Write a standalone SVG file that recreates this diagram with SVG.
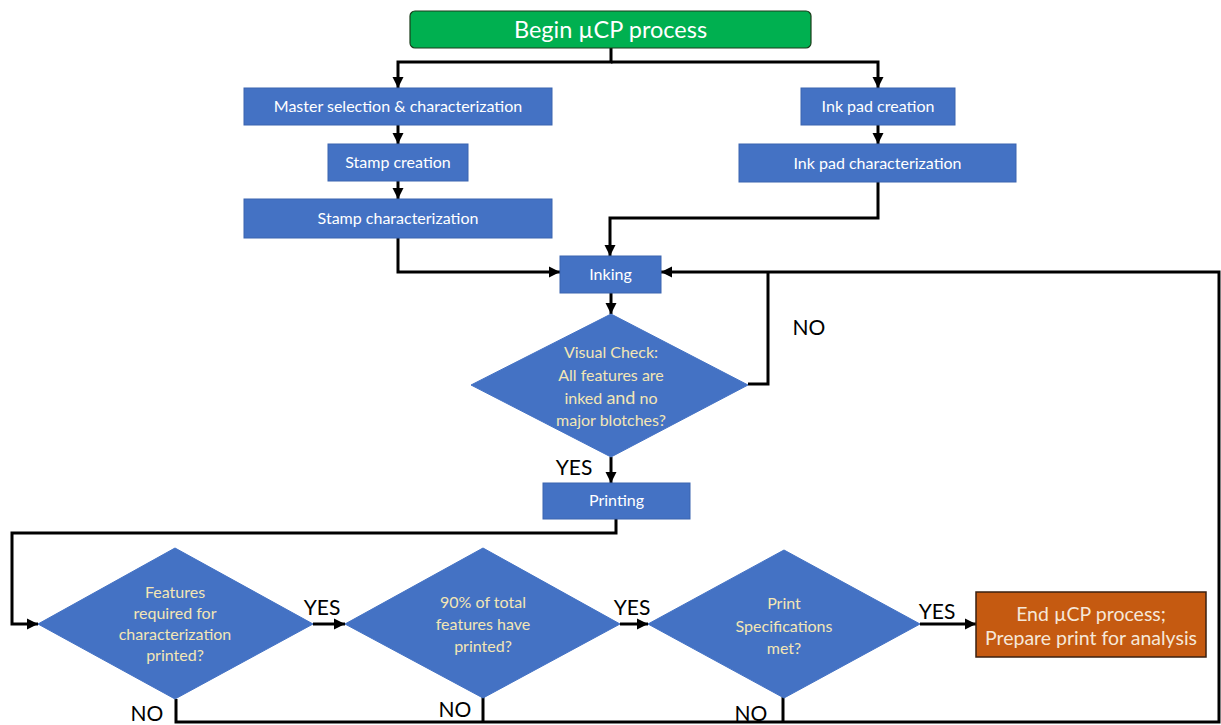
<svg xmlns="http://www.w3.org/2000/svg" width="1221" height="725" viewBox="0 0 1221 725">
<defs>
<marker id="arr" markerUnits="userSpaceOnUse" markerWidth="12" markerHeight="12" refX="11" refY="6" orient="auto">
<path d="M0,0.5 L11,6 L0,11.5 z" fill="#000"/>
</marker>
<style>
.box{fill:#4472c4;stroke:#3a64b0;stroke-width:1}
.dia{fill:#4472c4;stroke:#4472c4;stroke-width:1}
.bt{font-family:Lato,"Liberation Sans",sans-serif;font-size:16px;fill:#ffffff;text-anchor:middle}
.dt{font-family:Lato,"Liberation Sans",sans-serif;font-size:16px;fill:#f3e6b5;text-anchor:middle}
.lbl{font-family:Lato,"Liberation Sans",sans-serif;font-size:21px;fill:#000;text-anchor:middle}
.c{fill:none;stroke:#000;stroke-width:3}
.ca{fill:none;stroke:#000;stroke-width:3;marker-end:url(#arr)}
</style>
</defs>
<rect width="1221" height="725" fill="#ffffff"/>

<g id="connectors">
<path class="ca" d="M611,48 V62 H398 V88"/>
<path class="ca" d="M611,62 H878 V88"/>
<path class="ca" d="M398,125 V144"/>
<path class="ca" d="M398,181 V199"/>
<path class="ca" d="M878,125 V144"/>
<path class="ca" d="M878,182 V218 H610 V256"/>
<path class="ca" d="M398,238 V272 H560"/>
<path class="ca" d="M611,293 V314"/>
<path class="c" d="M748,384 H768 V272"/>
<path class="ca" d="M176,699 V722 H1219 V272 H661"/>
<path class="c" d="M483,697 V722"/>
<path class="c" d="M783,697 V722"/>
<path class="ca" d="M611,457 V483"/>
<path class="ca" d="M616,519 V533 H12 V624 H38"/>
<path class="ca" d="M313,624 H345"/>
<path class="ca" d="M620,624 H648"/>
<path class="ca" d="M920,624 H976"/>
</g>

<g id="labels">
<text class="lbl" x="809" y="335">NO</text>
<text class="lbl" x="574" y="475">YES</text>
<text class="lbl" x="322" y="615">YES</text>
<text class="lbl" x="632" y="615">YES</text>
<text class="lbl" x="937" y="619">YES</text>
<text class="lbl" x="147" y="721">NO</text>
<text class="lbl" x="455" y="717">NO</text>
<text class="lbl" x="751" y="721">NO</text>
</g>

<g id="begin">
<rect x="410" y="11" width="401" height="37" rx="5" fill="#00b050" stroke="#1a3d1a" stroke-width="1.2"/>
<text x="610.5" y="38" font-family="Lato,'Liberation Sans',sans-serif" font-size="23.5" fill="#ffffff" text-anchor="middle">Begin µCP process</text>
</g>

<g id="master">
<rect class="box" x="244" y="88" width="308" height="37"/>
<text class="bt" x="398" y="112">Master selection &amp; characterization</text>
</g>

<g id="stamp-creation">
<rect class="box" x="328" y="144" width="140" height="37"/>
<text class="bt" x="398" y="168">Stamp creation</text>
</g>

<g id="stamp-char">
<rect class="box" x="244" y="199" width="308" height="39"/>
<text class="bt" x="398" y="224">Stamp characterization</text>
</g>

<g id="inkpad-creation">
<rect class="box" x="801" y="88" width="154" height="37"/>
<text class="bt" x="878" y="112">Ink pad creation</text>
</g>

<g id="inkpad-char">
<rect class="box" x="739" y="144" width="277" height="38"/>
<text class="bt" x="877.5" y="169">Ink pad characterization</text>
</g>

<g id="inking">
<rect class="box" x="560" y="256" width="101" height="37"/>
<text class="bt" x="610.5" y="280">Inking</text>
</g>

<g id="visual-check">
<polygon class="dia" points="611,314 748,385 611,457 471,385"/>
<text class="dt" x="611" y="358">Visual Check:</text>
<text class="dt" x="611" y="381">All features are</text>
<text class="dt" x="611" y="404">inked <tspan font-size="18">and</tspan> no</text>
<text class="dt" x="611" y="426">major blotches?</text>
</g>

<g id="printing">
<rect class="box" x="543" y="483" width="147" height="36"/>
<text class="bt" x="616.5" y="506">Printing</text>
</g>

<g id="features-required">
<polygon class="dia" points="175,548 313,624 175,699 38,624"/>
<text class="dt" x="175" y="598">Features</text>
<text class="dt" x="175" y="619">required for</text>
<text class="dt" x="175" y="640">characterization</text>
<text class="dt" x="175" y="661">printed?</text>
</g>

<g id="ninety-percent">
<polygon class="dia" points="483,548 620,624 483,698 345,624"/>
<text class="dt" x="483" y="608">90% of total</text>
<text class="dt" x="483" y="630">features have</text>
<text class="dt" x="483" y="652">printed?</text>
</g>

<g id="print-specs">
<polygon class="dia" points="784,550 920,624 784,698 648,624"/>
<text class="dt" x="784" y="609">Print</text>
<text class="dt" x="784" y="632">Specifications</text>
<text class="dt" x="784" y="654">met?</text>
</g>

<g id="end">
<rect x="976" y="592" width="230" height="65" fill="#c55a11" stroke="#3a2010" stroke-width="1.5"/>
<text x="1091" y="621" font-family="Lato,'Liberation Sans',sans-serif" font-size="19.5" fill="#f6e7d8" text-anchor="middle">End µCP process;</text>
<text x="1091" y="645" font-family="Lato,'Liberation Sans',sans-serif" font-size="19.5" fill="#f6e7d8" text-anchor="middle">Prepare print for analysis</text>
</g>
</svg>
